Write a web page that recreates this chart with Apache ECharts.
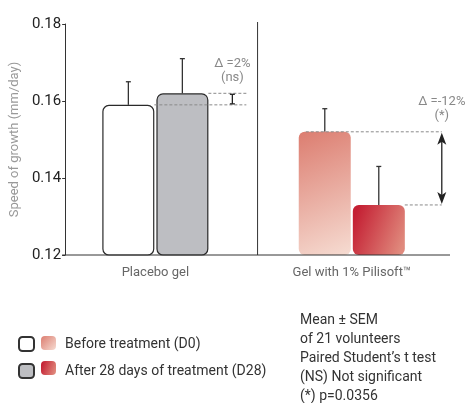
<!DOCTYPE html>
<html>
<head>
<meta charset="utf-8">
<script src="https://cdn.jsdelivr.net/npm/echarts@6/dist/echarts.min.js"></script>
<style>html,body{margin:0;padding:0;background:#fff}#c{width:471px;height:403px}</style>
</head>
<body>
<div id="c"></div>
<script>
// ---- data ----
var categories = ['Placebo gel', 'Gel with 1% Pilisoft\u2122'];
var beforeMean = [0.159, 0.152];
var beforeTop = [0.165, 0.158];   // mean + SEM
var afterMean = [0.162, 0.133];
var afterTop = [0.171, 0.143];    // mean + SEM
var deltaLabels = ['\u0394 =2%', '\u0394 =-12%'];
var sigLabels = ['(ns)', '(*)'];
var yTicks = [0.12, 0.14, 0.16, 0.18];
var seriesNames = ['Before treatment (D0)', 'After 28 days of treatment (D28)'];
var notes = ['Mean \u00b1 SEM', 'of 21 volunteers', 'Paired Student\u2019s t test', '(NS) Not significant', '(*) p=0.0356'];

// ---- styles ----
var FONT = 'Roboto, "Liberation Sans", sans-serif';
var BAR_W = 52, HALF = 27;
var lightRed = new echarts.graphic.LinearGradient(0, 0, 1, 1, [
  {offset: 0, color: '#dc7d70'}, {offset: 1, color: '#f6dcd2'}]);
var darkRed = new echarts.graphic.LinearGradient(0, 0.3, 1, 0.7, [
  {offset: 0, color: '#c41f33'}, {offset: 1, color: '#e08a7d'}]);
var beforeStyles = [
  {color: '#ffffff', borderColor: '#2a2a2a', borderWidth: 1.2, borderRadius: 6},
  {color: lightRed, borderWidth: 0, borderRadius: 6}];
var afterStyles = [
  {color: '#bdbec2', borderColor: '#2a2a2a', borderWidth: 1.2, borderRadius: 6},
  {color: darkRed, borderWidth: 0, borderRadius: 6}];
// annotation layout per group (pixel offsets from category centre)
var annot = [
  {upStart: -1, end: 91, mark: 77, kind: 'bar'},
  {upStart: -46, end: 90, mark: 90, kind: 'arrow'}];

var errData = [];
for (var i = 0; i < categories.length; i++) {
  errData.push([i, beforeMean[i], beforeTop[i], 0]);
  errData.push([i, afterMean[i], afterTop[i], 1]);
}
var annData = categories.map(function (c, i) { return [i, beforeMean[i], afterMean[i]]; });

var chart = echarts.init(document.getElementById('c'), null, {renderer: 'canvas'});
var dashStyle = {stroke: '#8a8a8a', lineWidth: 1, lineDash: [3, 2]};

chart.setOption({
  animation: false,
  backgroundColor: '#ffffff',
  grid: {left: 57, right: 21, top: 24, bottom: 148},
  legend: {
    orient: 'vertical', left: 18, top: 336, padding: 0, itemWidth: 15, itemHeight: 14, itemGap: 11,
    icon: 'roundRect', selectedMode: false,
    textStyle: {fontFamily: FONT, fontSize: 14, lineHeight: 14, color: '#333', padding: [0, 0, 0, 26]},
    data: seriesNames
  },
  xAxis: {
    type: 'category', data: categories,
    axisLine: {show: false}, axisTick: {show: false},
    axisLabel: {margin: 11, fontFamily: FONT, fontSize: 13, color: '#666'}
  },
  yAxis: {
    type: 'value', min: yTicks[0], max: yTicks[yTicks.length - 1], interval: 0.02, offset: -8,
    name: 'Speed of growth (mm/day)', nameLocation: 'middle', nameGap: 42,
    nameTextStyle: {fontFamily: FONT, fontSize: 13, color: '#999'},
    axisLine: {show: true, lineStyle: {color: '#333', width: 1}},
    axisTick: {show: true, length: 3, lineStyle: {color: '#333'}},
    splitLine: {show: false},
    axisLabel: {fontFamily: FONT, fontSize: 15, color: '#222', margin: 4,
      formatter: function (v) { return v.toFixed(2); }}
  },
  series: [
    {
      name: seriesNames[0], type: 'bar', barWidth: BAR_W, barGap: '4%',
      itemStyle: {color: '#ffffff', borderColor: '#333', borderWidth: 1.2},
      data: beforeMean.map(function (v, i) { return {value: v, itemStyle: beforeStyles[i]}; })
    },
    {
      name: seriesNames[1], type: 'bar', barWidth: BAR_W,
      itemStyle: {color: '#bdbec2', borderColor: '#333', borderWidth: 1.2},
      data: afterMean.map(function (v, i) { return {value: v, itemStyle: afterStyles[i]}; })
    },
    {
      // error bars (mean -> mean + SEM)
      type: 'custom', z: 1, silent: true, data: errData,
      renderItem: function (params, api) {
        var p0 = api.coord([api.value(0), api.value(1)]);
        var p1 = api.coord([api.value(0), api.value(2)]);
        var x = p0[0] + (api.value(3) === 0 ? -HALF : HALF);
        var s = {stroke: '#333', lineWidth: 1.3};
        return {type: 'group', children: [
          {type: 'line', shape: {x1: x, y1: p0[1], x2: x, y2: p1[1]}, style: s},
          {type: 'line', shape: {x1: x - 2.5, y1: p1[1], x2: x + 2.5, y2: p1[1]}, style: s}
        ]};
      }
    },
    {
      // frame: baseline and divider
      type: 'custom', z: 3, silent: true, data: [[0, yTicks[0]]],
      renderItem: function (params, api) {
        var cs = params.coordSys;
        var base = api.coord([0, yTicks[0]])[1];
        var top = api.coord([0, yTicks[yTicks.length - 1]])[1];
        var x0 = cs.x + 8, x1 = cs.x + cs.width;
        var mid = (x0 + x1) / 2;
        return {type: 'group', children: [
          {type: 'line', shape: {x1: x0 - 3, y1: base, x2: x1, y2: base}, style: {stroke: '#333', lineWidth: 1}},
          {type: 'line', shape: {x1: mid, y1: top - 2, x2: mid, y2: base}, style: {stroke: '#333', lineWidth: 1}}
        ]};
      }
    },
    {
      // delta annotations
      type: 'custom', z: 4, silent: true, data: annData,
      renderItem: function (params, api) {
        var i = params.dataIndex, a = annot[i];
        var pb = api.coord([api.value(0), api.value(1)]);
        var pa = api.coord([api.value(0), api.value(2)]);
        var cx = pb[0];
        var yUp = Math.min(pb[1], pa[1]), yLo = Math.max(pb[1], pa[1]);
        var ch = [
          {type: 'line', shape: {x1: cx + a.upStart, y1: pb[1], x2: cx + a.end, y2: pb[1]}, style: dashStyle},
          {type: 'line', shape: {x1: cx + BAR_W + 1, y1: pa[1], x2: cx + a.end, y2: pa[1]}, style: dashStyle},
          {type: 'text', x: cx + a.mark, y: yUp - 30, style: {text: deltaLabels[i], fill: '#888', font: '13px ' + FONT, align: 'center', verticalAlign: 'middle'}},
          {type: 'text', x: cx + a.mark, y: yUp - 16, style: {text: sigLabels[i], fill: '#888', font: '13px ' + FONT, align: 'center', verticalAlign: 'middle'}}
        ];
        var mx = cx + a.mark;
        var s = {stroke: '#222', lineWidth: 1.3, fill: '#222'};
        if (a.kind === 'bar') {
          ch.push({type: 'line', shape: {x1: mx, y1: yUp + 1, x2: mx, y2: yLo - 1}, style: s});
          ch.push({type: 'line', shape: {x1: mx - 2.5, y1: yUp + 1, x2: mx + 2.5, y2: yUp + 1}, style: s});
          ch.push({type: 'line', shape: {x1: mx - 2.5, y1: yLo - 1, x2: mx + 2.5, y2: yLo - 1}, style: s});
        } else {
          ch.push({type: 'line', shape: {x1: mx, y1: yUp + 6, x2: mx, y2: yLo - 6}, style: s});
          ch.push({type: 'polygon', shape: {points: [[mx, yUp + 1], [mx - 4.5, yUp + 13], [mx, yUp + 10], [mx + 4.5, yUp + 13]]}, style: {fill: '#222'}});
          ch.push({type: 'polygon', shape: {points: [[mx, yLo - 1], [mx - 4.5, yLo - 13], [mx, yLo - 10], [mx + 4.5, yLo - 13]]}, style: {fill: '#222'}});
        }
        return {type: 'group', children: ch};
      }
    }
  ],
  graphic: [
    {type: 'rect', left: 41, top: 336, shape: {width: 15, height: 14, r: 4}, style: {fill: lightRed}, silent: true},
    {type: 'rect', left: 41, top: 361, shape: {width: 15, height: 14, r: 4}, style: {fill: darkRed}, silent: true},
    {type: 'text', left: 300, top: 311, style: {text: notes.join('\n'), font: '14px ' + FONT, fill: '#333', lineHeight: 19}, silent: true}
  ]
});
</script>
</body>
</html>
